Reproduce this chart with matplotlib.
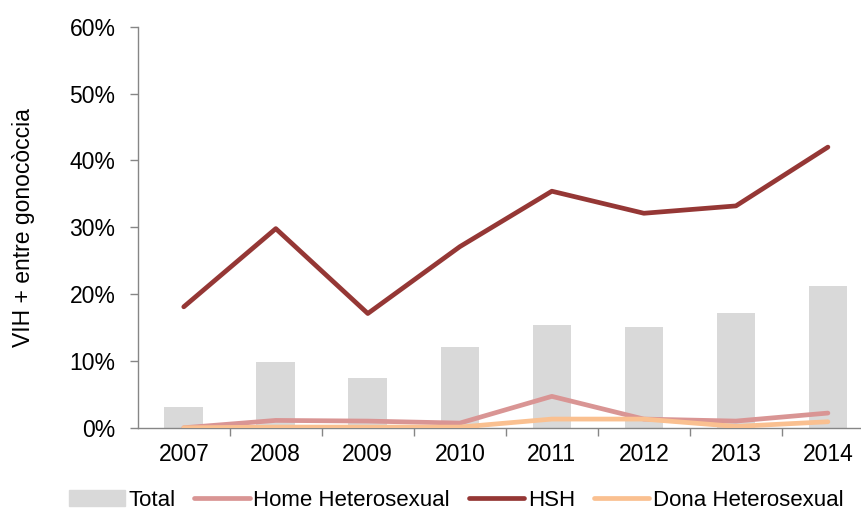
import matplotlib
matplotlib.use('Agg')
import matplotlib.pyplot as plt
import numpy as np
from matplotlib.patches import Patch
from matplotlib.lines import Line2D

years = ['2007', '2008', '2009', '2010', '2011', '2012', '2013', '2014']
total = [3.1, 9.9, 7.5, 12.1, 15.4, 15.1, 17.2, 21.2]
hsh = [18.1, 29.8, 17.1, 27.1, 35.4, 32.1, 33.2, 42.0]
home_het = [0.0, 1.1, 1.0, 0.7, 4.7, 1.3, 1.0, 2.2]
dona_het = [0.0, 0.1, 0.1, 0.1, 1.3, 1.3, 0.2, 0.9]

plt.rcParams['font.family'] = ['Liberation Sans', 'DejaVu Sans']
fs = 16.5

fig = plt.figure(figsize=(8.61, 5.16), dpi=100)
ax = fig.add_axes([0.160, 0.171, 0.855, 0.777])

x = np.arange(len(years))
ax.bar(x, total, width=0.42, color='#D9D9D9', zorder=1)
ax.plot(x, home_het, color='#D99594', lw=3.4, solid_capstyle='round', zorder=3)
ax.plot(x, hsh, color='#953735', lw=3.4, solid_capstyle='round', zorder=4)
ax.plot(x, dona_het, color='#FAC090', lw=3.4, solid_capstyle='round', zorder=3)

ax.set_xlim(-0.5, len(years) - 0.5)
ax.set_ylim(0, 60)
ax.set_yticks(np.arange(0, 61, 10))
ax.set_yticklabels(['{}%'.format(v) for v in range(0, 61, 10)], fontsize=fs)
ax.set_xticks(x)
ax.set_xticklabels(years, fontsize=fs)
ax.tick_params(axis='x', length=0, pad=11)
ax.set_xticks(np.arange(0.5, len(years) - 0.5, 1), minor=True)
ax.tick_params(axis='x', which='minor', length=6, color='#868686', width=1)
ax.tick_params(axis='y', length=6, color='#868686', width=1, pad=10)

for s in ['top', 'right']:
    ax.spines[s].set_visible(False)
for s in ['left', 'bottom']:
    ax.spines[s].set_color('#868686')
    ax.spines[s].set_linewidth(1)

ax.set_ylabel('VIH + entre gonocòccia', fontsize=fs)
ax.yaxis.set_label_coords(-0.139, 0.5)

handles = [Patch(color='#D9D9D9'),
           Line2D([0], [0], color='#D99594', lw=3.4, solid_capstyle='round'),
           Line2D([0], [0], color='#953735', lw=3.4, solid_capstyle='round'),
           Line2D([0], [0], color='#FAC090', lw=3.4, solid_capstyle='round')]
labels = ['Total', 'Home Heterosexual', 'HSH', 'Dona Heterosexual']
fig.legend(handles, labels, loc='center', bbox_to_anchor=(0.53, 0.03), ncol=4,
           frameon=False, fontsize=16, handlelength=2.5, handletextpad=0.15,
           columnspacing=0.85, borderaxespad=0, borderpad=0)

fig.savefig('out.png', dpi=100)
